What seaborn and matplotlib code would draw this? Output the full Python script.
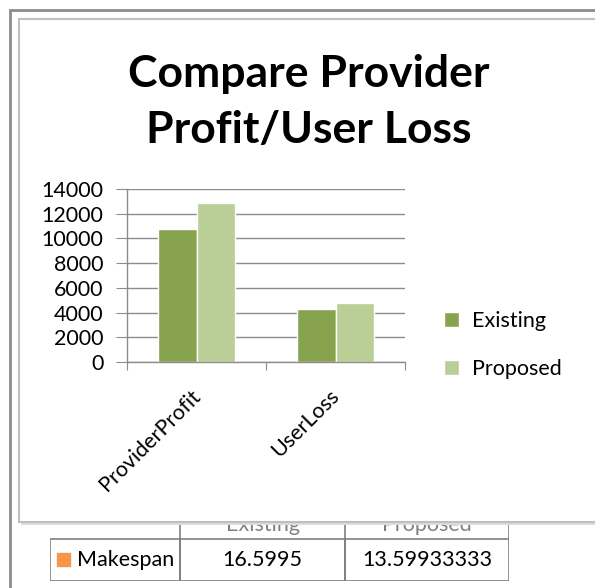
import pandas as pd
import matplotlib.pyplot as plt
import matplotlib.transforms as mtrans
import seaborn as sns
from matplotlib.patches import Rectangle

# data
categories = ["ProviderProfit", "UserLoss"]
existing = [10800, 4300]
proposed = [12900, 4800]
series = ["Existing", "Proposed"]
colors = ["#87A34D", "#B9CF95"]
yticks = [0, 2000, 4000, 6000, 8000, 10000, 12000, 14000]

table_row = "Makespan"
table_vals = ["16.5995", "13.59933333"]

df = pd.DataFrame({
    "category": categories * 2,
    "series": ["Existing"] * len(categories) + ["Proposed"] * len(categories),
    "value": existing + proposed,
})

sns.set_style("white")
plt.rcParams["font.family"] = ["Lato", "DejaVu Sans"]
plt.rcParams["text.color"] = "black"
plt.rcParams["xtick.color"] = "black"
plt.rcParams["ytick.color"] = "black"

W, H = 595, 588
fig = plt.figure(figsize=(W / 100, H / 100), dpi=100)

def fx(x):
    return x / W

def fy(y):
    return 1 - y / H

# outer frame
fig.patches.append(Rectangle((fx(10), fy(600)), fx(600), fy(10) - fy(600),
                             transform=fig.transFigure, fill=False,
                             edgecolor="#8C8C8C", linewidth=2, zorder=0.5))

# ---- table (drawn first, header partly hidden by the chart box)
tax = fig.add_axes([fx(50), fy(581), fx(509 - 50), fy(500) - fy(581)], zorder=0.6)
tax.set_axis_off()
tax.set_xlim(50, 509)
tax.set_ylim(581, 500)
col_x = [50, 180, 345, 509]
ec = "#7F7F7F"
for i in range(3):
    tax.add_patch(Rectangle((col_x[i], 539), col_x[i + 1] - col_x[i], 42,
                            fill=False, edgecolor=ec, linewidth=1.2))
for x in col_x[1:]:
    tax.plot([x, x], [500, 539], color=ec, linewidth=1.2)
tax.text((col_x[1] + col_x[2]) / 2, 531, "Existing", ha="center", va="baseline",
         fontsize=15.5, color="#808080")
tax.text((col_x[2] + col_x[3]) / 2, 531, "Proposed", ha="center", va="baseline",
         fontsize=15.5, color="#808080")
tax.add_patch(Rectangle((57, 553), 13, 13, color="#F79646"))
tax.text(77, 560, table_row, ha="left", va="center", fontsize=15.5)
for i, v in enumerate(table_vals):
    tax.text((col_x[i + 1] + col_x[i + 2]) / 2, 560, v, ha="center", va="center", fontsize=15.5)

# ---- chart box with shadow
fig.patches.append(Rectangle((fx(21), fy(525)), fx(600), fy(21) - fy(525),
                             transform=fig.transFigure, facecolor="#DCDCDC",
                             edgecolor="none", zorder=0.8))
fig.patches.append(Rectangle((fx(19), fy(522)), fx(600), fy(19) - fy(522),
                             transform=fig.transFigure, facecolor="white",
                             edgecolor="#BFBFBF", linewidth=1.5, zorder=0.9))

fig.text(fx(309), fy(74), "Compare Provider", ha="center", va="center",
         fontsize=32, fontweight="bold", zorder=1)
fig.text(fx(309), fy(130), "Profit/User Loss", ha="center", va="center",
         fontsize=32, fontweight="bold", zorder=1)

# ---- bar chart
ax = fig.add_axes([fx(127), fy(362), fx(405 - 127), fy(189) - fy(362)], zorder=1)
ax.patch.set_alpha(0)
sns.barplot(data=df, x="category", y="value", hue="series", order=categories,
            hue_order=series, palette=colors, width=0.56, gap=0,
            saturation=1, ax=ax, legend=True)
ax.set_xlim(-0.5, 1.5)
ax.set_ylim(0, 14000)
ax.set_yticks(yticks)
ax.set_yticklabels([str(t) for t in yticks], fontsize=15.5)
ax.yaxis.grid(True, color="#8C8C8C", linewidth=1)
ax.set_axisbelow(True)
ax.set_xlabel("")
ax.set_ylabel("")
for s in ["top", "right"]:
    ax.spines[s].set_visible(False)
for s in ["left", "bottom"]:
    ax.spines[s].set_color("#8C8C8C")
    ax.spines[s].set_linewidth(1)
ax.tick_params(axis="y", left=True, length=8, color="#8C8C8C", pad=9)
ax.set_xticks([-0.5, 0.5, 1.5])
ax.set_xticklabels([])
ax.tick_params(axis="x", bottom=True, length=6, color="#8C8C8C")
ax.set_xticks(range(len(categories)), minor=True)
ax.set_xticklabels(categories, minor=True, rotation=45, ha="right",
                   rotation_mode="anchor", fontsize=15.5)
ax.tick_params(axis="x", which="minor", length=0, pad=20)
shift = mtrans.ScaledTranslation(-6 / 100, 4 / 100, fig.dpi_scale_trans)
for lbl in ax.get_xticklabels(minor=True):
    lbl.set_transform(lbl.get_transform() + shift)

leg = ax.legend(loc="center left", bbox_to_anchor=(1.07, 0.1), frameon=False,
                fontsize=15.5, handlelength=0.7, handleheight=0.7,
                handletextpad=0.6, labelspacing=1.3)

fig.savefig("out.png", dpi=100)
